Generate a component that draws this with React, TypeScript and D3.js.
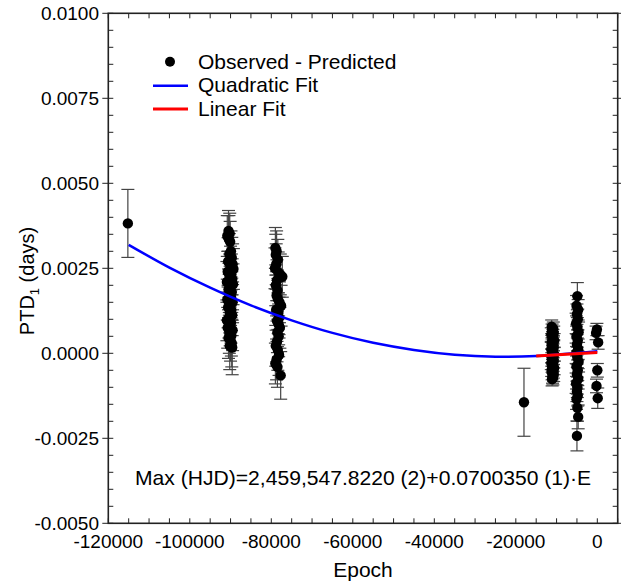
import React from "react";
import * as d3 from "d3";

// [epoch, O-C (days), error]
const pointA: [number, number, number][] = [[-115200, 0.00382, 0.001]];
const clusterB: [number, number, number][] = [
  [-90500, 0.0036, 0.0006], [-90200, 0.00352, 0.0006], [-90800, 0.00345, 0.0006],
  [-90400, 0.00335, 0.0007], [-90100, 0.00328, 0.0006], [-89900, 0.003, 0.0006],
  [-90300, 0.00292, 0.0006], [-89700, 0.00281, 0.0006], [-90600, 0.0027, 0.0007],
  [-89500, 0.00262, 0.0006], [-90000, 0.00255, 0.0006], [-89300, 0.00248, 0.0006],
  [-90700, 0.0024, 0.0006], [-89800, 0.00232, 0.0006], [-90200, 0.00225, 0.0006],
  [-89600, 0.00218, 0.0006], [-90900, 0.0021, 0.0006], [-89400, 0.00203, 0.0006],
  [-90100, 0.00196, 0.0006], [-90500, 0.00188, 0.0006], [-89700, 0.0018, 0.0006],
  [-90300, 0.00172, 0.0006], [-89900, 0.00165, 0.0006], [-90800, 0.00158, 0.0006],
  [-89500, 0.0015, 0.0006], [-90000, 0.00142, 0.0006], [-90600, 0.00135, 0.0006],
  [-89800, 0.00127, 0.0006], [-90200, 0.0012, 0.0006], [-89600, 0.00112, 0.0006],
  [-90400, 0.00105, 0.0006], [-90900, 0.00097, 0.0006], [-89900, 0.0009, 0.0006],
  [-90100, 0.00082, 0.0006], [-90700, 0.00075, 0.0006], [-89500, 0.00068, 0.0006],
  [-90300, 0.0006, 0.0006], [-89800, 0.00052, 0.0006], [-90500, 0.00045, 0.0006],
  [-90000, 0.00037, 0.0006], [-89700, 0.0003, 0.0007], [-90200, 0.00022, 0.0007],
  [-89600, 0.00017, 0.0008],
];
const clusterC: [number, number, number][] = [
  [-79000, 0.0031, 0.0006], [-78700, 0.003, 0.0006], [-78900, 0.0029, 0.0006],
  [-78400, 0.00275, 0.0006], [-78800, 0.00262, 0.0006], [-79100, 0.0025, 0.0006],
  [-78300, 0.00238, 0.0006], [-77800, 0.00232, 0.0006], [-77300, 0.00225, 0.0006],
  [-78600, 0.00215, 0.0006], [-78900, 0.002, 0.0006], [-78500, 0.00185, 0.0006],
  [-78700, 0.0017, 0.0006], [-78400, 0.0016, 0.0006], [-78000, 0.0015, 0.0006],
  [-77600, 0.0014, 0.0006], [-78800, 0.00128, 0.0006], [-78300, 0.00118, 0.0006],
  [-78100, 0.00105, 0.0006], [-78600, 0.00095, 0.0006], [-78200, 0.00085, 0.0006],
  [-77900, 0.00075, 0.0006], [-78500, 0.00062, 0.0006], [-78200, 0.0005, 0.0006],
  [-78600, 0.00035, 0.0006], [-78900, 0.00022, 0.0006], [-78400, 0.0001, 0.0006],
  [-78100, -0.00005, 0.0006], [-78700, -0.00018, 0.0006], [-79000, -0.0003, 0.0006],
  [-78500, -0.0004, 0.0006], [-77700, -0.00065, 0.0007],
];
const pointD: [number, number, number][] = [[-18000, -0.00144, 0.001]];
const clusterE: [number, number, number][] = [
  [-11200, 0.00078, 0.0002], [-10800, 0.00072, 0.0002], [-11100, 0.00066, 0.0002],
  [-10700, 0.0006, 0.0002], [-11300, 0.00055, 0.0002], [-10900, 0.0005, 0.0002],
  [-11000, 0.00044, 0.0002], [-10600, 0.00038, 0.0002], [-11200, 0.00033, 0.0002],
  [-10800, 0.00028, 0.0002], [-11100, 0.00022, 0.0002], [-10700, 0.00017, 0.0002],
  [-11300, 0.00012, 0.0002], [-10900, 0.00007, 0.0002], [-11000, 0.00002, 0.0002],
  [-10600, -0.00003, 0.0002], [-11200, -0.00008, 0.0002], [-10800, -0.00013, 0.0002],
  [-11100, -0.00018, 0.0002], [-10700, -0.00023, 0.0002], [-11300, -0.00028, 0.0002],
  [-10900, -0.00033, 0.0002], [-11000, -0.00038, 0.0002], [-10600, -0.00043, 0.0002],
  [-11200, -0.00048, 0.0002], [-10800, -0.00053, 0.0002], [-11100, -0.00058, 0.0002],
  [-10700, -0.00063, 0.0002], [-11000, -0.00068, 0.0002], [-10900, -0.00073, 0.0002],
  [-11100, -0.00076, 0.0002],
];
const clusterF: [number, number, number][] = [
  [-4900, 0.00168, 0.0004], [-5100, 0.0014, 0.0003], [-4700, 0.00128, 0.0003],
  [-5000, 0.00115, 0.0003], [-4800, 0.001, 0.0003], [-5200, 0.00088, 0.0003],
  [-4900, 0.00075, 0.0003], [-4600, 0.00062, 0.0003], [-5100, 0.0005, 0.0003],
  [-4800, 0.00038, 0.0003], [-5000, 0.00025, 0.0003], [-4700, 0.00012, 0.0003],
  [-5200, 0.0, 0.0003], [-4900, -0.00012, 0.0003], [-4600, -0.00025, 0.0003],
  [-5100, -0.00038, 0.0003], [-4800, -0.0005, 0.0003], [-5000, -0.00062, 0.0003],
  [-4700, -0.00075, 0.0003], [-5200, -0.00088, 0.0003], [-4900, -0.001, 0.0003],
  [-5000, -0.00112, 0.0003], [-4800, -0.00125, 0.0003], [-5100, -0.00135, 0.0003],
  [-4900, -0.0016, 0.0004], [-4700, -0.00187, 0.00035], [-5000, -0.00243, 0.00044],
];
const clusterG: [number, number, number][] = [
  [-100, 0.0007, 0.00018], [-300, 0.0006, 0.0002], [200, 0.00032, 0.0002],
  [0, -0.0005, 0.0002], [-200, -0.00096, 0.0002], [100, -0.00132, 0.0003],
];

// Fit curves
const quadEpochs = [-115000, -105000, -95000, -85000, -75000, -65000, -55000, -45000, -35000, -25000, -15000, -5000, 0];
const quadValues = [0.00319, 0.00252, 0.00193, 0.00141, 0.00097, 0.0006, 0.00031, 0.0001, -0.00004, -0.0001, -0.00008, 0.00001, 0.00006];
const linEpochs = [-15000, 0];
const linValues = [-0.00008, 0.00002];

const yTickLabels = [0.01, 0.0075, 0.005, 0.0025, 0.0, -0.0025, -0.005];
const xTickLabels = [-120000, -100000, -80000, -60000, -40000, -20000, 0];
const legendLabels = ["Observed - Predicted", "Quadratic Fit", "Linear Fit"];
const equationText = "Max (HJD)=2,459,547.8220 (2)+0.0700350 (1)·E";

export default function App() {
  const x = d3.scaleLinear().domain([-120000, 5000]).range([108.3, 617.7]);
  const y = d3.scaleLinear().domain([-0.005, 0.01]).range([523.3, 13.3]);
  const font = "'Liberation Sans', Arial, sans-serif";
  const [x0, x1] = x.range();
  const [y0, y1] = y.range();

  const allPoints = [...pointA, ...clusterB, ...clusterC, ...pointD, ...clusterE, ...clusterF, ...clusterG];
  const xMinor = d3.range(-120000, 5001, 5000);
  const yMinor = d3.range(-0.005, 0.01001, 0.0005);

  const quadLine = d3
    .line<number>()
    .x((_, i) => x(quadEpochs[i]))
    .y((d) => y(d))
    .curve(d3.curveCatmullRom)(quadValues);
  const linLine = d3
    .line<number>()
    .x((_, i) => x(linEpochs[i]))
    .y((d) => y(d))(linValues);

  const frame = "#222";
  const errColor = "#444";

  return (
    <svg width={621} height={585} style={{ position: "absolute", left: 0, top: 0 }} fontFamily={font}>
      <rect x={0} y={0} width={621} height={585} fill="#fff" />
      {/* ticks */}
      <g stroke={frame} strokeWidth={1}>
        {xMinor.map((t) => (
          <g key={"xt" + t}>
            <line x1={x(t)} x2={x(t)} y1={y0} y2={y0 - 5} />
            <line x1={x(t)} x2={x(t)} y1={y1} y2={y1 + 5} />
          </g>
        ))}
        {yMinor.map((t, i) => {
          const major = i % 5 === 0;
          return (
            <g key={"yt" + i}>
              <line x1={x0 - (major ? 6 : 0)} x2={x0 + 5} y1={y(t)} y2={y(t)} />
              <line x1={x1 + (major ? 6 : 0)} x2={x1 - 5} y1={y(t)} y2={y(t)} />
            </g>
          );
        })}
      </g>
      <rect x={x0} y={y1} width={x1 - x0} height={y0 - y1} fill="none" stroke={frame} strokeWidth={1.6} />
      {/* tick labels */}
      {yTickLabels.map((t) => (
        <text key={"yl" + t} x={99} y={y(t)} dy="0.35em" textAnchor="end" fontSize={19} fill="#000">
          {t.toFixed(4)}
        </text>
      ))}
      {xTickLabels.map((t) => (
        <text key={"xl" + t} x={x(t)} y={548} textAnchor="middle" fontSize={19} fill="#000">
          {t}
        </text>
      ))}
      <text x={(x0 + x1) / 2} y={577} textAnchor="middle" fontSize={21}>
        Epoch
      </text>
      <text transform="translate(34,281) rotate(-90)" textAnchor="middle" fontSize={20}>
        PTD<tspan fontSize={13} dy={5}>1</tspan>
        <tspan dy={-5}> (days)</tspan>
      </text>
      {/* error bars */}
      <g stroke={errColor} strokeWidth={1.2}>
        {allPoints.map(([e, v, err], i) => (
          <g key={"e" + i}>
            <line x1={x(e)} x2={x(e)} y1={y(v + err)} y2={y(v - err)} />
            <line x1={x(e) - 6.5} x2={x(e) + 6.5} y1={y(v + err)} y2={y(v + err)} />
            <line x1={x(e) - 6.5} x2={x(e) + 6.5} y1={y(v - err)} y2={y(v - err)} />
          </g>
        ))}
      </g>
      {allPoints.map(([e, v], i) => (
        <circle key={"p" + i} cx={x(e)} cy={y(v)} r={5.2} fill="#000" />
      ))}
      <path d={quadLine ?? ""} fill="none" stroke="#0000ff" strokeWidth={2.5} />
      <path d={linLine ?? ""} fill="none" stroke="#ff0000" strokeWidth={3} />
      {/* legend */}
      <circle cx={170} cy={61.7} r={5} fill="#000" />
      <text x={198} y={68.5} fontSize={21}>{legendLabels[0]}</text>
      <line x1={153} x2={188} y1={85.7} y2={85.7} stroke="#0000ff" strokeWidth={2.5} />
      <text x={198} y={92} fontSize={21}>{legendLabels[1]}</text>
      <line x1={153} x2={188} y1={109} y2={109} stroke="#ff0000" strokeWidth={3} />
      <text x={198} y={116} fontSize={21}>{legendLabels[2]}</text>
      <text x={135} y={485} fontSize={21.1}>{equationText}</text>
    </svg>
  );
}
